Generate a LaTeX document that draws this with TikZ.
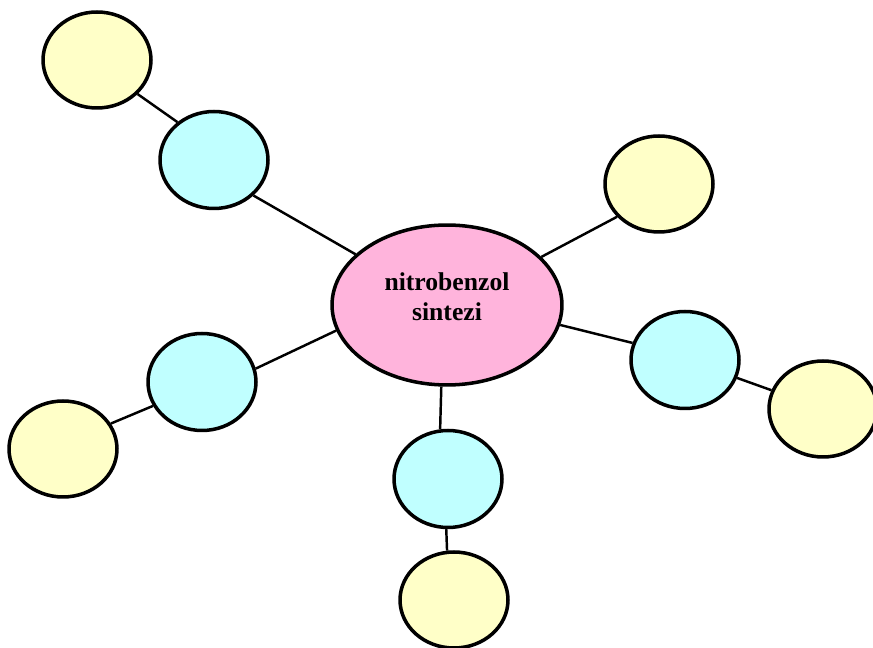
\documentclass[tikz,border=0pt]{standalone}
\usepackage{fontspec}
\setmainfont{Liberation Serif}
\usepackage{tikz}
\usetikzlibrary{shapes.geometric}
\definecolor{mypink}{RGB}{255,180,220}
\definecolor{mycyan}{RGB}{192,255,255}
\definecolor{myyellow}{RGB}{255,255,200}
\tikzset{
  hubnode/.style={ellipse, draw=black, fill=mypink, inner sep=0pt,
    minimum width=4.6cm, minimum height=3.2cm, line width=2pt,
    align=center, font=\fontsize{14.6}{17.5}\selectfont\bfseries},
  midnode/.style={ellipse, draw=black, fill=mycyan, inner sep=0pt,
    minimum width=2.16cm, minimum height=1.94cm, line width=2pt},
  leafnode/.style={ellipse, draw=black, fill=myyellow, inner sep=0pt,
    minimum width=2.16cm, minimum height=1.92cm, line width=2pt},
  link/.style={line width=1.4pt, color=black}
}

\begin{document}
\begin{tikzpicture}[x=0.02cm, y=-0.02cm]
  \useasboundingbox (0,0) rectangle (873,648);

  % Centre
  \node[hubnode, text depth=0.34cm] (hub) at (447,305) {nitrobenzol\\sintezi};

  % Cyan ring
  \node[midnode] (m1) at (214,160) {};
  \node[midnode] (m2) at (685,360) {};
  \node[midnode] (m3) at (202,382) {};
  \node[midnode] (m4) at (448,479) {};

  % Yellow leaves
  \node[leafnode] (l1) at (97,60)   {};
  \node[leafnode] (l2) at (659,184) {};
  \node[leafnode] (l3) at (823,409) {};
  \node[leafnode] (l4) at (63,449)  {};
  \node[leafnode] (l5) at (454,600) {};

  % Links
  \draw[link] (hub.151) -- (m1.318);
  \draw[link] (m1.134) -- (l1.320);
  \draw[link] (hub.27) -- (l2.218);
  \draw[link] (hub.350) -- (m2.162);
  \draw[link] (m2.341) -- (l3.160);
  \draw[link] (hub.193) -- (m3.14);
  \draw[link] (m3.206) -- (l4.28);
  \draw[link] (hub.266) -- (m4.99);
  \draw[link] (m4.268) -- (l5.98);
\end{tikzpicture}
\end{document}
